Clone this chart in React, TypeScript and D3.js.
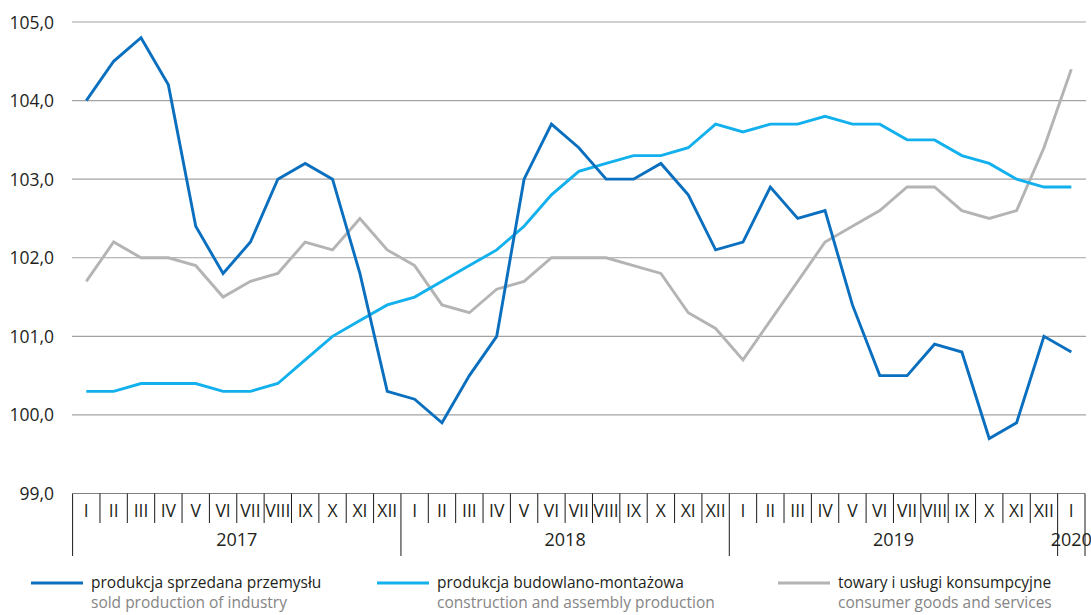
import { useEffect, useRef } from "react";
import * as d3 from "d3";

// months Jan 2017 .. Jan 2020
const monthLabels = [
  "I", "II", "III", "IV", "V", "VI", "VII", "VIII", "IX", "X", "XI", "XII",
  "I", "II", "III", "IV", "V", "VI", "VII", "VIII", "IX", "X", "XI", "XII",
  "I", "II", "III", "IV", "V", "VI", "VII", "VIII", "IX", "X", "XI", "XII",
  "I",
];
const years = ["2017", "2018", "2019", "2020"];
const yTicks = [99, 100, 101, 102, 103, 104, 105];

const soldProduction = [
  104.0, 104.5, 104.8, 104.2, 102.4, 101.8, 102.2, 103.0, 103.2, 103.0, 101.8, 100.3,
  100.2, 99.9, 100.5, 101.0, 103.0, 103.7, 103.4, 103.0, 103.0, 103.2, 102.8, 102.1,
  102.2, 102.9, 102.5, 102.6, 101.4, 100.5, 100.5, 100.9, 100.8, 99.7, 99.9, 101.0,
  100.8,
];
const construction = [
  100.3, 100.3, 100.4, 100.4, 100.4, 100.3, 100.3, 100.4, 100.7, 101.0, 101.2, 101.4,
  101.5, 101.7, 101.9, 102.1, 102.4, 102.8, 103.1, 103.2, 103.3, 103.3, 103.4, 103.7,
  103.6, 103.7, 103.7, 103.8, 103.7, 103.7, 103.5, 103.5, 103.3, 103.2, 103.0, 102.9,
  102.9,
];
const consumer = [
  101.7, 102.2, 102.0, 102.0, 101.9, 101.5, 101.7, 101.8, 102.2, 102.1, 102.5, 102.1,
  101.9, 101.4, 101.3, 101.6, 101.7, 102.0, 102.0, 102.0, 101.9, 101.8, 101.3, 101.1,
  100.7, 101.2, 101.7, 102.2, 102.4, 102.6, 102.9, 102.9, 102.6, 102.5, 102.6, 103.4,
  104.4,
];

const seriesNames = [
  ["produkcja sprzedana przemysłu", "sold production of industry"],
  ["produkcja budowlano-montażowa", "construction and assembly production"],
  ["towary i usługi konsumpcyjne", "consumer goods and services"],
];
const seriesColors = ["#0a6fbe", "#12b0ec", "#b4b4b4"];

const W = 1091;
const H = 615;
const font = "'Open Sans', sans-serif";

export default function App() {
  const svgRef = useRef<SVGSVGElement>(null);

  useEffect(() => {
    const svg = d3.select(svgRef.current);
    svg.selectAll("*").remove();

    const x = d3
      .scaleBand<number>()
      .domain(d3.range(monthLabels.length))
      .range([72.6, 1085])
      .paddingInner(0)
      .paddingOuter(0);
    const y = d3.scaleLinear().domain([99, 105]).range([493.5, 22]);
    const bw = x.bandwidth();
    const cx = (i: number) => (x(i) as number) + bw / 2;

    // grid lines
    svg
      .append("g")
      .selectAll("line")
      .data(yTicks.filter((t) => t > 99))
      .join("line")
      .attr("x1", 72)
      .attr("x2", 1086)
      .attr("y1", (d) => y(d))
      .attr("y2", (d) => y(d))
      .attr("stroke", "#a3a3a3")
      .attr("stroke-width", 1.2);

    // y labels
    svg
      .append("g")
      .selectAll("text")
      .data(yTicks)
      .join("text")
      .attr("x", 54)
      .attr("y", (d) => y(d) + 6.5)
      .attr("text-anchor", "end")
      .attr("font-family", font)
      .attr("font-size", 17.5)
      .attr("fill", "#231f20")
      .text((d) => d.toFixed(1).replace(".", ","));

    // x axis box
    const axisTop = y(99);
    const ax = svg.append("g");
    ax.append("line")
      .attr("x1", 72.6)
      .attr("x2", 1085)
      .attr("y1", axisTop)
      .attr("y2", axisTop)
      .attr("stroke", "#808080")
      .attr("stroke-width", 1.2);

    ax.selectAll("line.tick")
      .data(d3.range(1, monthLabels.length))
      .join("line")
      .attr("class", "tick")
      .attr("x1", (i) => x(i) as number)
      .attr("x2", (i) => x(i) as number)
      .attr("y1", axisTop)
      .attr("y2", (i) => (i % 12 === 0 ? 556 : 523))
      .attr("stroke", "#1a1a1a")
      .attr("stroke-width", 1);

    [72.6, 1085].forEach((xx) =>
      ax.append("line")
        .attr("x1", xx)
        .attr("x2", xx)
        .attr("y1", axisTop)
        .attr("y2", 556)
        .attr("stroke", "#1a1a1a")
        .attr("stroke-width", 1)
    );

    ax.selectAll("text.month")
      .data(monthLabels)
      .join("text")
      .attr("class", "month")
      .attr("x", (_, i) => cx(i))
      .attr("y", 517)
      .attr("text-anchor", "middle")
      .attr("font-family", font)
      .attr("font-size", 17.5)
      .attr("fill", "#231f20")
      .text((d) => d);

    ax.selectAll("text.year")
      .data(years)
      .join("text")
      .attr("class", "year")
      .attr("x", (_, k) => {
        const start = k * 12;
        const end = Math.min(start + 11, monthLabels.length - 1);
        return ((x(start) as number) + (x(end) as number) + bw) / 2;
      })
      .attr("y", 546)
      .attr("text-anchor", "middle")
      .attr("font-family", font)
      .attr("font-size", 18)
      .attr("fill", "#231f20")
      .text((d) => d);

    // lines
    const line = d3
      .line<number>()
      .x((_, i) => cx(i))
      .y((d) => y(d));

    [soldProduction, construction, consumer]
      .map((data, k) => ({ data, k }))
      .reverse()
      .forEach(({ data, k }) => {
        svg.append("path")
          .datum(data)
          .attr("d", line)
          .attr("fill", "none")
          .attr("stroke", seriesColors[k])
          .attr("stroke-width", 2.9)
          .attr("stroke-linejoin", "miter");
      });

    // legend
    const legX = [31, 377, 778];
    const leg = svg
      .append("g")
      .selectAll("g")
      .data(seriesNames)
      .join("g")
      .attr("transform", (_, k) => `translate(${legX[k]},0)`);
    leg.append("line")
      .attr("x1", 0)
      .attr("x2", 52)
      .attr("y1", 583)
      .attr("y2", 583)
      .attr("stroke", (_, k) => seriesColors[k])
      .attr("stroke-width", 3);
    leg.append("text")
      .attr("x", 60)
      .attr("y", 588)
      .attr("font-family", font)
      .attr("font-size", 15.5)
      .attr("fill", "#231f20")
      .text((d) => d[0]);
    leg.append("text")
      .attr("x", 60)
      .attr("y", 608)
      .attr("font-family", font)
      .attr("font-size", 15.5)
      .attr("fill", "#858585")
      .text((d) => d[1]);
  }, []);

  return (
    <svg
      ref={svgRef}
      width={W}
      height={H}
      style={{ position: "absolute", left: 0, top: 0, background: "#fff" }}
    />
  );
}
